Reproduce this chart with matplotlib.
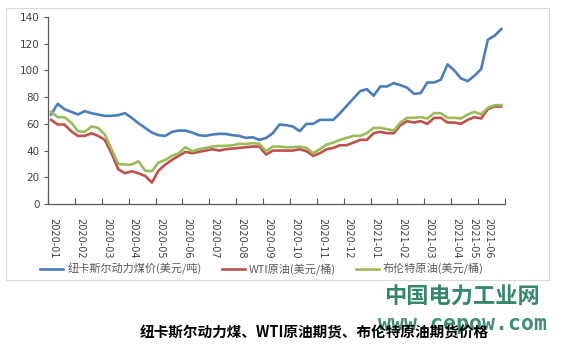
import matplotlib
matplotlib.use("Agg")
import matplotlib.pyplot as plt
from matplotlib.patches import Rectangle

plt.rcParams['font.family'] = ['Noto Sans CJK SC', 'DejaVu Sans']

# Weekly prices (Jan 2020 - Jun 2021)
coal = [67, 75, 71, 69, 67, 69.5, 68, 67, 66, 66, 66.5, 68, 64.5, 60.5, 57, 53.5, 51.5, 51,
        54, 55, 55, 53.5, 51.5, 51, 52, 52.5, 52.5, 51.5, 51, 49.5, 50, 48, 49.5, 53,
        59.5, 59, 58, 54.5, 60, 60, 63, 63, 63, 68, 73.5, 79, 84.5, 86, 81, 88, 88,
        90.5, 89, 87, 82.5, 83, 91, 91, 93, 104.5, 100, 94, 92, 96, 101, 123, 126, 131]
wti = [63, 59.5, 59.5, 54.5, 51, 51, 53, 51, 48, 38, 26, 23, 24.5, 23, 21, 16, 25, 29.5,
       33, 36, 39, 38, 39, 40, 41, 40, 41, 41.5, 42, 42.5, 43, 43, 37, 40,
       40, 40, 40, 41, 39.5, 36, 38, 41, 42, 44, 44, 46, 48, 48, 53, 54, 53,
       53, 59, 62, 61, 62, 60, 64.5, 64.5, 61, 61, 60, 63, 65, 64, 71, 73, 73]
brent = [69, 65, 65, 61, 54.5, 54, 58, 57, 52, 41, 30, 29.5, 29.5, 32, 25, 24.5, 31, 33,
         36, 38, 42.5, 39.5, 41, 42, 43, 43.5, 43.5, 44, 45, 45, 45.5, 45, 39.5, 43,
         43, 42.5, 42.5, 43, 42, 38, 41, 44.5, 46, 48, 49.5, 51, 51, 53, 57, 57, 56,
         55, 61, 64.5, 64.5, 65, 64, 68, 68, 64.5, 64.5, 64, 67, 69, 67, 72, 74, 74]

months = ["2020-01", "2020-02", "2020-03", "2020-04", "2020-05", "2020-06",
          "2020-07", "2020-08", "2020-09", "2020-10", "2020-11", "2020-12",
          "2021-01", "2021-02", "2021-03", "2021-04", "2021-05", "2021-06"]

names = ["纽卡斯尔动力煤价(美元/吨)", "WTI原油(美元/桶)", "布伦特原油(美元/桶)"]
colors = ["#4a7ebb", "#c0504d", "#9bbb59"]

fig = plt.figure(figsize=(5.62, 3.53), dpi=100)
fig.patch.set_facecolor("white")

# light frame around the chart area
fig.patches.append(Rectangle((6 / 562, 1 - 280 / 353), 543 / 562, 272 / 353,
                             transform=fig.transFigure, fill=False,
                             edgecolor="#d9d9d9", linewidth=0.8))

ax = fig.add_axes([48 / 562, 1 - 204 / 353, 457 / 562, 187 / 353])

x = list(range(len(coal)))
for y, c, n in zip([coal, wti, brent], colors, names):
    ax.plot(x, y, color=c, linewidth=1.9, label=n, solid_joinstyle="round")

ax.set_ylim(0, 140)
ax.set_yticks(range(0, 141, 20))
ax.set_xlim(-0.45, 67.55)

# month ticks every 4 points, labels a bit to the right (last two squeezed)
ax.set_xticks([-0.45 + 4 * k for k in range(len(months))])
ax.set_xticklabels([])
label_pos = [0.3 + 4 * k for k in range(len(months) - 2)] + [62.9, 65.0]
ax.set_xticks(label_pos, minor=True)
ax.set_xticklabels(months, minor=True, rotation=-90, fontsize=7,
                   color="#404040", family="DejaVu Sans")
ax.tick_params(axis="x", which="major", direction="in", length=4,
               color="#595959", width=0.8)
ax.tick_params(axis="x", which="minor", length=0, pad=10)
ax.tick_params(axis="y", direction="out", length=3, color="#595959",
               width=0.8, labelsize=7.5, labelcolor="#404040", pad=3)
for lbl in ax.get_yticklabels():
    lbl.set_family("DejaVu Sans")

for s in ["top", "right"]:
    ax.spines[s].set_visible(False)
for s in ["left", "bottom"]:
    ax.spines[s].set_color("#595959")
    ax.spines[s].set_linewidth(0.9)

leg = fig.legend(loc="center", bbox_to_anchor=(262 / 562, 1 - 269 / 353), ncol=3,
                 frameon=False, fontsize=8, handlelength=2.1, handletextpad=0.35,
                 columnspacing=1.8, labelcolor="#595959")

# watermark
fig.text(462 / 562, 1 - 297 / 353, "中国电力工业网", ha="center", va="center",
         fontsize=16, fontweight="bold", color="#1e7a5e", alpha=0.9)
fig.text(462 / 562, 1 - 324 / 353, "www.cepow.com", ha="center", va="center",
         fontsize=15.5, fontweight="bold", color="#1e7a5e", alpha=0.85,
         family="DejaVu Sans Mono")

# caption
fig.text(314 / 562, 1 - 333 / 353, "纽卡斯尔动力煤、WTI原油期货、布伦特原油期货价格",
         ha="center", va="center", fontsize=10.5, fontweight="bold", color="black")

fig.savefig("out.png", dpi=100)
